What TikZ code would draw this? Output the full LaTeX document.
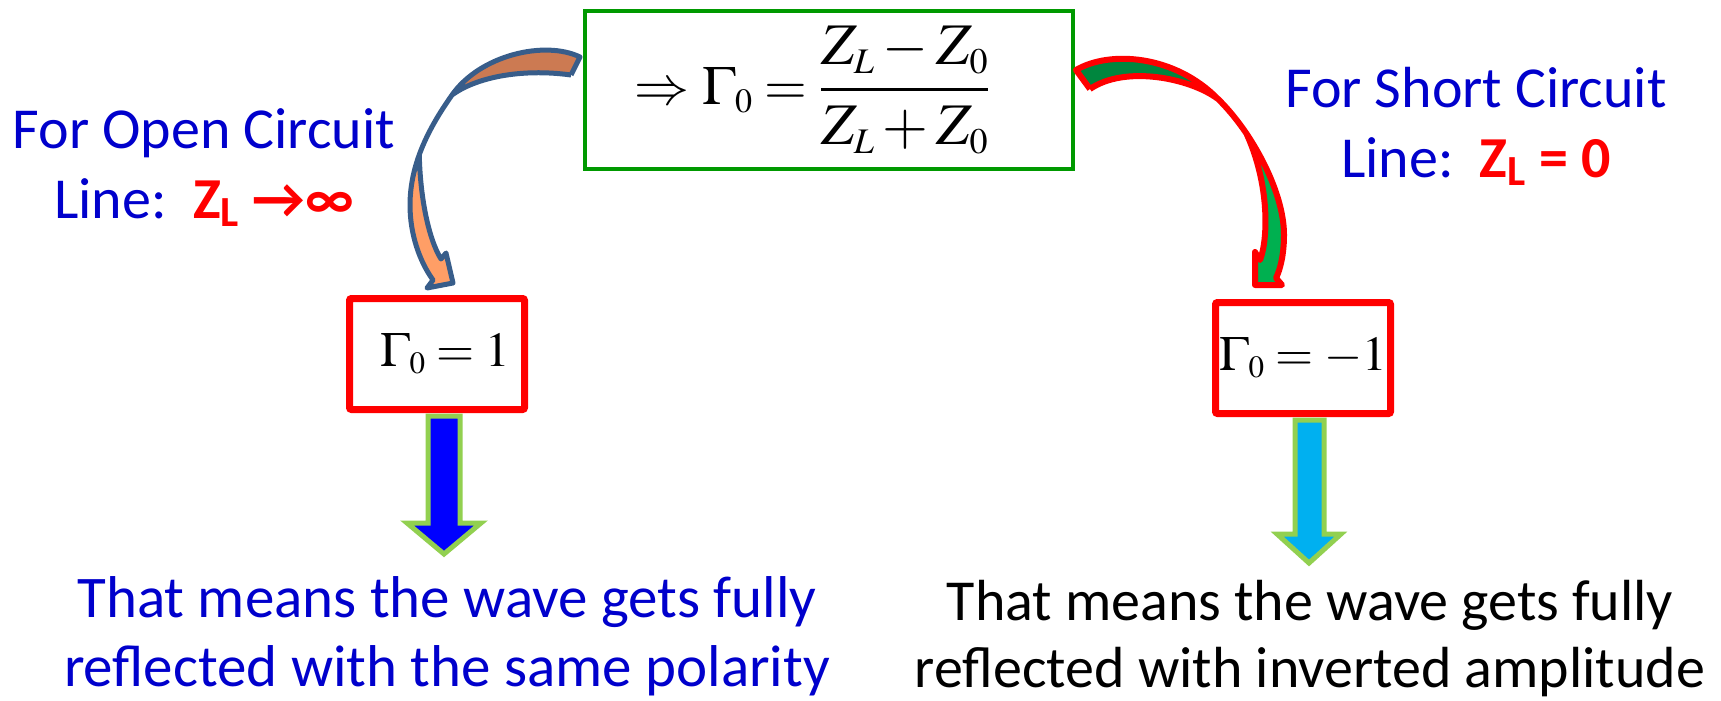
\documentclass[tikz,border=0pt]{standalone}
\usepackage{mathptmx}
\usepackage[no-math]{fontspec}
\setmainfont{Carlito}
\DeclareMathSizes{55}{55}{34}{26}
\DeclareMathSizes{59}{59}{36}{28}
\DeclareMathSizes{49}{49}{31}{24}
\definecolor{txtblue}{RGB}{0,0,204}
\definecolor{boxgreen}{RGB}{0,153,0}
\definecolor{arrowedge}{RGB}{146,208,80}
\definecolor{arrowblue}{RGB}{0,0,255}
\definecolor{arrowcyan}{RGB}{0,176,240}
\definecolor{curveblue}{RGB}{56,93,138}
\definecolor{orangeback}{RGB}{204,122,82}
\definecolor{orangefront}{RGB}{255,158,102}
\definecolor{greenback}{RGB}{0,134,62}
\definecolor{greenfront}{RGB}{0,176,80}
\begin{document}
\begin{tikzpicture}[x=1pt, y=-1pt,
  toptext/.style={font=\fontsize{58}{70}\selectfont, text=txtblue, align=center, inner sep=0pt},
  bottext/.style={font=\fontsize{59}{69}\selectfont, align=center, inner sep=0pt},
  redbox/.style={draw=red, line width=7pt, rounded corners=2pt, minimum width=175pt, minimum height=111pt, inner sep=0pt},
  blockarrow/.style={draw=arrowedge, line width=5pt, miter limit=4},
  curveopen/.style={draw=curveblue, line width=5pt, line join=round},
  curveshort/.style={draw=red, line width=6pt, line join=round}]
\useasboundingbox (0,0) rectangle (1721,701);
% formula box
\node[draw=boxgreen, line width=4.5pt, minimum width=488pt, minimum height=158pt, inner sep=0pt] (formula) at (829,90)
  {\fontsize{55}{60}\selectfont$\Rightarrow\Gamma_0=\mbox{\fontsize{59}{64}\selectfont$\displaystyle\frac{Z_L-Z_0}{Z_L+Z_0}$}$\hspace*{34pt}};
% the two cases
\node[toptext, anchor=base] (opentext) at (204,218) {For Open Circuit\\Line:\ \ {\color{red}\bfseries Z\textsubscript{L} →∞}};
\node[toptext, anchor=base] (shorttext) at (1476,177) {For Short Circuit\\Line:\ \ {\color{red}\bfseries Z\textsubscript{L} = 0}};
\node[redbox] (openbox) at (437,354) {\fontsize{49}{60}\selectfont\hspace*{16pt}$\Gamma_0=1$};
\node[redbox] (shortbox) at (1303,358) {\fontsize{49}{60}\selectfont$\Gamma_0=-1$};
\node[bottext, text=txtblue, anchor=base] (openresult) at (447,686) {That means the wave gets fully\\reflected with the same polarity};
\node[bottext, font=\fontsize{58}{67}\selectfont, anchor=base] (shortresult) at (1310,687) {That means the wave gets fully\\reflected with inverted amplitude};
% curved arrow, open circuit
\fill[orangeback] (580,57) .. controls (545,40) and (480,55) .. (452,95)
  .. controls (475,78) and (520,68) .. (571,75) -- cycle;
\fill[orangefront] (419.3,154.6) .. controls (413.7,170.1) and (410,187) .. (410,205)
  .. controls (410,235) and (420,262) .. (433,280) -- (427,288) -- (453,283) -- (446,253) -- (441,259)
  .. controls (428,238) and (420,195) .. (419.3,154.6) -- cycle;
\draw[curveopen] (571,75) -- (580,57) .. controls (545,40) and (480,55) .. (452,95)
  .. controls (440.6,111.2) and (427.8,131.4) .. (419.3,154.6)
  .. controls (413.7,170.1) and (410,187) .. (410,205)
  .. controls (410,235) and (420,262) .. (433,280) -- (427,288) -- (453,283) -- (446,253) -- (441,259)
  .. controls (428,238) and (420,195) .. (419.3,154.6)
  (452,95) .. controls (475,78) and (520,68) .. (571,75);
% curved arrow, short circuit
\fill[greenback] (1076,70) .. controls (1110,50) and (1175,55) .. (1218,99)
  .. controls (1190,78) and (1125,65) .. (1090,89) -- cycle;
\fill[greenfront] (1246.4,133.5) .. controls (1267.3,164.7) and (1284,203.5) .. (1284,235)
  .. controls (1284,255) and (1280,270) .. (1276,278) -- (1282,285) -- (1255,285) -- (1255,252) -- (1260,260)
  .. controls (1268,240) and (1270,185) .. (1246.4,133.5) -- cycle;
\draw[curveshort] (1090,89) -- (1076,70) .. controls (1110,50) and (1175,55) .. (1218,99)
  .. controls (1227.6,108.3) and (1237.4,120.2) .. (1246.4,133.5)
  .. controls (1267.3,164.7) and (1284,203.5) .. (1284,235)
  .. controls (1284,255) and (1280,270) .. (1276,278) -- (1282,285) -- (1255,285) -- (1255,252) -- (1260,260)
  .. controls (1268,240) and (1270,185) .. (1246.4,133.5)
  (1218,99) .. controls (1190,78) and (1125,65) .. (1090,89);
% block arrows
\filldraw[blockarrow, fill=arrowblue] (428,416) -- (428,523) -- (407,523) -- (444,554) -- (481,523) -- (460,523) -- (460,416) -- cycle;
\filldraw[blockarrow, fill=arrowcyan] (1295,420) -- (1295,534) -- (1277,534) -- (1309,563) -- (1341,534) -- (1324,534) -- (1324,420) -- cycle;
\end{tikzpicture}
\end{document}
